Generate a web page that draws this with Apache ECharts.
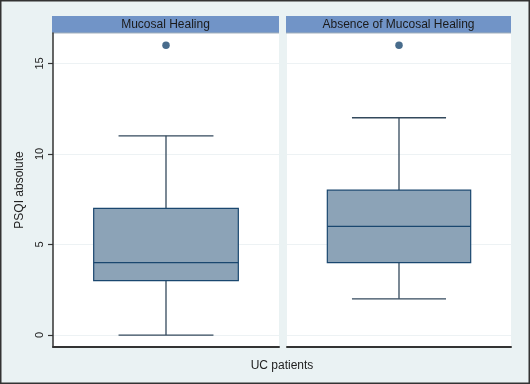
<!DOCTYPE html>
<html>
<head>
<meta charset="utf-8">
<script src="https://cdn.jsdelivr.net/npm/echarts@6/dist/echarts.min.js"></script>
<style>
html,body{margin:0;padding:0;background:#eaf2f3;}
#chart{width:530px;height:384px;}
</style>
</head>
<body>
<div id="chart"></div>
<script>
// ---- data ----
var categories = ['Mucosal Healing', 'Absence of Mucosal Healing'];
var whiskerLow = [0, 2];
var quartile1 = [3, 4];
var medians = [4, 6];
var quartile3 = [7, 8];
var whiskerHigh = [11, 12];
var outliers = [[16], [16]];
var yTicks = [0, 5, 10, 15];
var xTitle = 'UC patients';
var yTitle = 'PSQI absolute';

var FONT = 'Liberation Sans, Arial, sans-serif';
var chart = echarts.init(document.getElementById('chart'));

var grids = [
  {left: 53, right: 251, top: 33, bottom: 37},
  {left: 287, right: 19, top: 33, bottom: 37}
];

function renderBox(params, api) {
  var x = api.value(0);
  var pMin = api.coord([x, api.value(1)]);
  var pQ1 = api.coord([x, api.value(2)]);
  var pMed = api.coord([x, api.value(3)]);
  var pQ3 = api.coord([x, api.value(4)]);
  var pMax = api.coord([x, api.value(5)]);
  var band = api.size([1, 0])[0];
  var bw = band * 0.64;
  var cw = band * 0.42;
  var cx = pMed[0];
  var lineStyle = {stroke: '#33495c', lineWidth: 1.3};
  return {
    type: 'group',
    children: [
      {type: 'line', shape: {x1: cx, y1: pQ3[1], x2: cx, y2: pMax[1]}, style: lineStyle},
      {type: 'line', shape: {x1: cx, y1: pQ1[1], x2: cx, y2: pMin[1]}, style: lineStyle},
      {type: 'line', shape: {x1: cx - cw / 2, y1: pMax[1], x2: cx + cw / 2, y2: pMax[1]}, style: lineStyle},
      {type: 'line', shape: {x1: cx - cw / 2, y1: pMin[1], x2: cx + cw / 2, y2: pMin[1]}, style: lineStyle},
      {type: 'rect', shape: {x: cx - bw / 2, y: pQ3[1], width: bw, height: pQ1[1] - pQ3[1]},
        style: {fill: '#8ca3b7', stroke: '#1a476f', lineWidth: 1.2}},
      {type: 'line', shape: {x1: cx - bw / 2, y1: pMed[1], x2: cx + bw / 2, y2: pMed[1]},
        style: {stroke: '#1a476f', lineWidth: 1.3}}
    ]
  };
}

var xAxes = [], yAxes = [], series = [];
for (var i = 0; i < 2; i++) {
  xAxes.push({
    type: 'category', gridIndex: i, data: [categories[i]], boundaryGap: true,
    axisLine: {show: true, onZero: false, lineStyle: {color: '#333', width: 2}},
    axisTick: {show: false}, axisLabel: {show: false}, splitLine: {show: false}
  });
  yAxes.push({
    type: 'value', gridIndex: i, min: -0.66, max: 16.68,
    axisLine: {show: i === 0, lineStyle: {color: '#333', width: 1.5}},
    axisTick: {show: i === 0, length: 5, customValues: yTicks, lineStyle: {color: '#333', width: 1.2}},
    axisLabel: {show: i === 0, customValues: yTicks, rotate: 90, margin: 8, color: '#222', fontSize: 11, fontFamily: FONT},
    splitLine: {show: true, lineStyle: {color: '#edf2f4', width: 1}},
    name: i === 0 ? yTitle : '', nameLocation: 'middle', nameGap: 27,
    nameTextStyle: {color: '#222', fontSize: 12, fontFamily: FONT}
  });
  var d = [[0, whiskerLow[i], quartile1[i], medians[i], quartile3[i], whiskerHigh[i]]];
  series.push({
    type: 'custom', xAxisIndex: i, yAxisIndex: i, renderItem: renderBox, data: d,
    encode: {x: 0, y: [1, 2, 3, 4, 5]}, clip: false, silent: true
  });
  series.push({
    type: 'scatter', xAxisIndex: i, yAxisIndex: i, symbol: 'circle', symbolSize: 7.5,
    itemStyle: {color: '#1a476f'}, silent: true,
    data: outliers[i].map(function (v) { return [0, v]; })
  });
}

var graphics = [];
for (var j = 0; j < 2; j++) {
  var g = grids[j];
  var x0 = g.left - 1, x1 = 530 - g.right;
  graphics.push({type: 'rect', silent: true, z: -10,
    shape: {x: g.left, y: g.top, width: x1 - g.left, height: 384 - g.bottom - g.top},
    style: {fill: '#ffffff'}});
  graphics.push({type: 'rect', silent: true,
    shape: {x: x0, y: 16, width: x1 - x0, height: 17},
    style: {fill: '#7194c7', stroke: null}});
  graphics.push({type: 'line', silent: true,
    shape: {x1: x0, y1: 33, x2: x1, y2: 33},
    style: {stroke: '#a3b0bb', lineWidth: 1}});
  graphics.push({type: 'text', silent: true,
    x: (x0 + x1) / 2, y: 25,
    style: {text: categories[j], fill: '#1a1a1a', font: '12px ' + FONT, align: 'center', verticalAlign: 'middle'}});
}
graphics.push({type: 'text', silent: true, x: 282, y: 366,
  style: {text: xTitle, fill: '#222', font: '12px ' + FONT, align: 'center', verticalAlign: 'middle'}});
graphics.push({type: 'rect', silent: true,
  shape: {x: 0.75, y: 0.75, width: 528.5, height: 382.5},
  style: {fill: null, stroke: '#333', lineWidth: 1.5}});

chart.setOption({
  backgroundColor: '#eaf2f3',
  animation: false,
  grid: grids,
  xAxis: xAxes,
  yAxis: yAxes,
  series: series,
  graphic: graphics
});
</script>
</body>
</html>
